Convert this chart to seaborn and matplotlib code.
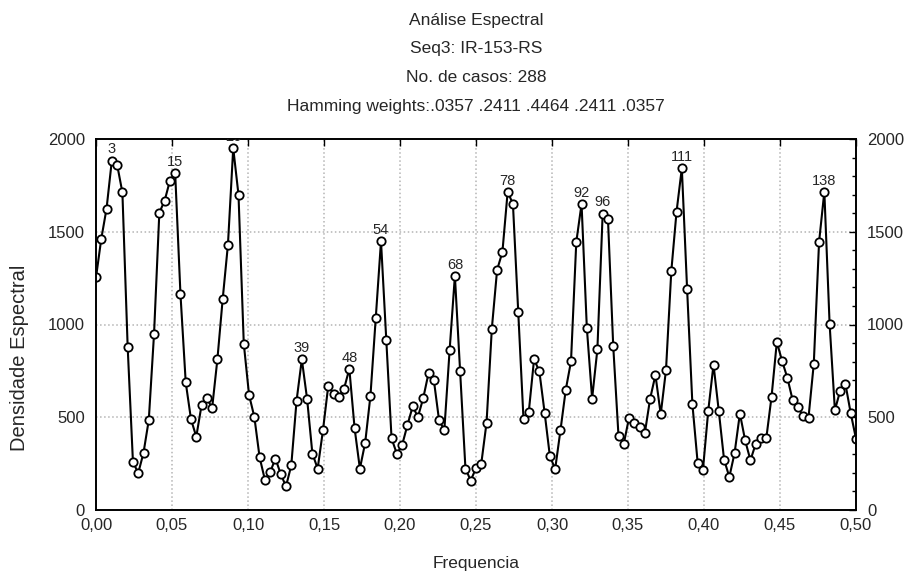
import numpy as np
import seaborn as sns
import matplotlib.pyplot as plt
from matplotlib.ticker import MultipleLocator, FuncFormatter

# spectral density per frequency index k (frequency = k / n_cases)
n_cases = 288
density = [
    1254, 1462, 1625, 1884, 1862, 1712, 879, 259, 199, 308,
    485, 951, 1603, 1667, 1775, 1817, 1165, 688, 489, 395,
    565, 603, 549, 812, 1136, 1431, 1951, 1699, 897, 620,
    502, 284, 163, 205, 277, 194, 127, 241, 589, 812,
    598, 304, 223, 429, 668, 628, 610, 654, 761, 440,
    223, 362, 616, 1036, 1449, 915, 386, 303, 350, 457,
    558, 502, 603, 737, 703, 484, 431, 861, 1263, 748,
    223, 159, 226, 250, 471, 978, 1295, 1390, 1716, 1649,
    1069, 489, 529, 812, 748, 525, 290, 221, 429, 647,
    801, 1444, 1650, 982, 601, 866, 1598, 1571, 884, 399,
    357, 498, 471, 449, 417, 601, 728, 516, 755, 1286,
    1609, 1842, 1190, 571, 254, 217, 534, 784, 534, 272,
    178, 308, 520, 375, 268, 357, 389, 386, 611, 906,
    803, 712, 592, 553, 507, 498, 788, 1444, 1716, 1002,
    538, 643, 679, 522, 384,
]
peaks = [3, 15, 26, 39, 48, 54, 68, 78, 92, 96, 111, 138]
title_lines = [
    "Análise Espectral",
    "Seq3: IR-153-RS",
    "No. de casos: 288",
    "Hamming weights:.0357 .2411 .4464 .2411 .0357",
]

freq = np.arange(len(density)) / n_cases

sns.set_style("white")
plt.rcParams['font.family'] = ['Liberation Sans', 'DejaVu Sans']

fig = plt.figure(figsize=(9.05, 5.74), dpi=100)
ax = fig.add_axes([96 / 905, 1 - 510 / 574, 760 / 905, 371 / 574])

sns.lineplot(x=freq, y=density, ax=ax, color='black', linewidth=1.5,
             marker='o', markersize=6, markerfacecolor='white',
             markeredgecolor='black', markeredgewidth=1.3)

for k in peaks:
    ax.annotate(str(k), (freq[k], density[k]), xytext=(0, 3),
                textcoords='offset points', ha='center', va='bottom',
                fontsize=10.5, annotation_clip=False, clip_on=True)

ax.set_xlim(0, 0.5)
ax.set_ylim(0, 2000)
ax.xaxis.set_major_locator(MultipleLocator(0.05))
ax.xaxis.set_major_formatter(FuncFormatter(lambda v, p: f"{v:.2f}".replace('.', ',')))
ax.yaxis.set_major_locator(MultipleLocator(500))
ax.yaxis.set_minor_locator(MultipleLocator(100))

ax.grid(True, which='major', color='#b4b4b4', linestyle=':', linewidth=1.1)
ax.tick_params(axis='both', which='both', direction='in', top=True, right=True,
               labelright=True, labelsize=12, color='black')
ax.tick_params(axis='both', which='major', length=5, width=1)
ax.tick_params(axis='y', which='minor', length=3, width=1)
ax.tick_params(axis='x', which='major', pad=6)
ax.tick_params(axis='y', which='major', pad=8)
for s in ax.spines.values():
    s.set_color('black')
    s.set_linewidth(1.4)

ax.set_xlabel("Frequencia", fontsize=12.5)
ax.set_ylabel("Densidade Espectral", fontsize=14.5)
ax.xaxis.set_label_coords(0.5, (510 - 556) / 371)
ax.yaxis.set_label_coords((29 - 96) / 760, (510 - 358) / 371)

for i, line in enumerate(title_lines):
    fig.text(476 / 905, 1 - (20 + 29 * i) / 574, line, ha='center', va='center',
             fontsize=12.5)

fig.savefig("out.png", dpi=100)
